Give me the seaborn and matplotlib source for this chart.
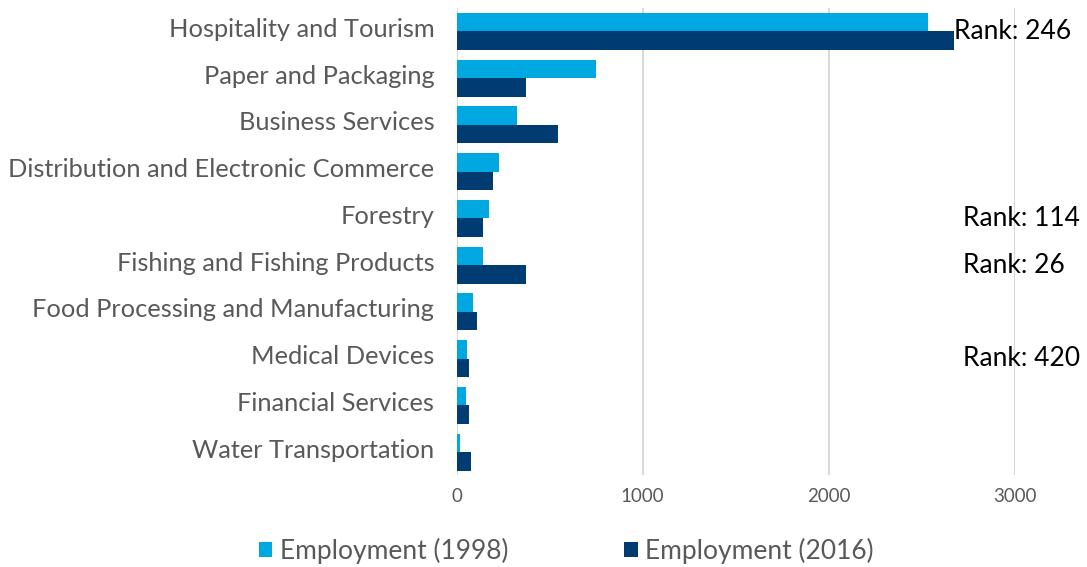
import matplotlib
matplotlib.use("Agg")
import matplotlib.pyplot as plt
import matplotlib.transforms as mtransforms
from matplotlib.patches import Patch
import seaborn as sns
import pandas as pd

# Cluster employment, 1998 vs 2016
clusters = [
    "Hospitality and Tourism",
    "Paper and Packaging",
    "Business Services",
    "Distribution and Electronic Commerce",
    "Forestry",
    "Fishing and Fishing Products",
    "Food Processing and Manufacturing",
    "Medical Devices",
    "Financial Services",
    "Water Transportation",
]
employment_1998 = [2530, 750, 325, 230, 174, 143, 89, 58, 51, 18]
employment_2016 = [2672, 375, 545, 197, 141, 371, 112, 69, 69, 78]
series_names = ["Employment (1998)", "Employment (2016)"]

# National rank notes shown beside some clusters
rank_clusters = ["Hospitality and Tourism", "Forestry",
                 "Fishing and Fishing Products", "Medical Devices"]
rank_values = [246, 114, 26, 420]

xticks = [0, 1000, 2000, 3000]

colors = ["#00A8E1", "#003B71"]
grey = "#595959"

df = pd.DataFrame({
    "Cluster": clusters * 2,
    "Employment": employment_1998 + employment_2016,
    "Series": [series_names[0]] * len(clusters) + [series_names[1]] * len(clusters),
})

sns.set_theme(style="white")
plt.rcParams["font.family"] = ["Lato", "DejaVu Sans"]

fig = plt.figure(figsize=(10.87, 5.67), dpi=100)
ax = fig.add_axes([0.42, 0.1614, 0.5138, 0.8245])

sns.barplot(
    data=df, y="Cluster", x="Employment", hue="Series",
    order=clusters, hue_order=series_names, palette=colors,
    orient="h", width=0.79, dodge=True, gap=0, errorbar=None,
    saturation=1, edgecolor="none", linewidth=0, ax=ax, legend=False,
)

ax.set_xlim(0, 3000)
ax.set_xticks(xticks)
ax.set_xticklabels([str(t) for t in xticks], fontsize=13.5, color=grey)
ax.set_xlabel("")
ax.set_ylabel("")
ax.tick_params(axis="y", length=0, pad=16, labelsize=18.3, labelcolor=grey)
ax.tick_params(axis="x", length=0, pad=9)
ax.grid(axis="x", color="#D9D9D9", linewidth=1.5)
ax.set_axisbelow(True)
for s in ax.spines.values():
    s.set_visible(False)

# Lift category labels slightly above the bar-pair centre
lift = mtransforms.ScaledTranslation(0, 4 / 100, fig.dpi_scale_trans)
for lab in ax.get_yticklabels():
    lab.set_transform(lab.get_transform() + lift)

# Rank notes: the first sits at the end of its 2016 bar, the rest in a column
rank_column_x = 2722
for name, rank in zip(rank_clusters, rank_values):
    i = clusters.index(name)
    x = employment_2016[i] if i == 0 else rank_column_x
    ax.text(x, i, f"Rank: {rank}", ha="left", va="center",
            fontsize=19, color="black", clip_on=False)

handles = [Patch(facecolor=c, edgecolor="none") for c in colors]
fig.legend(handles, series_names, loc="center", bbox_to_anchor=(0.521, 0.028),
           ncol=2, frameon=False, fontsize=19, labelcolor=grey,
           handlelength=0.5, handleheight=0.5, handletextpad=0.3,
           columnspacing=4.4)

fig.savefig("out.png", dpi=100)
